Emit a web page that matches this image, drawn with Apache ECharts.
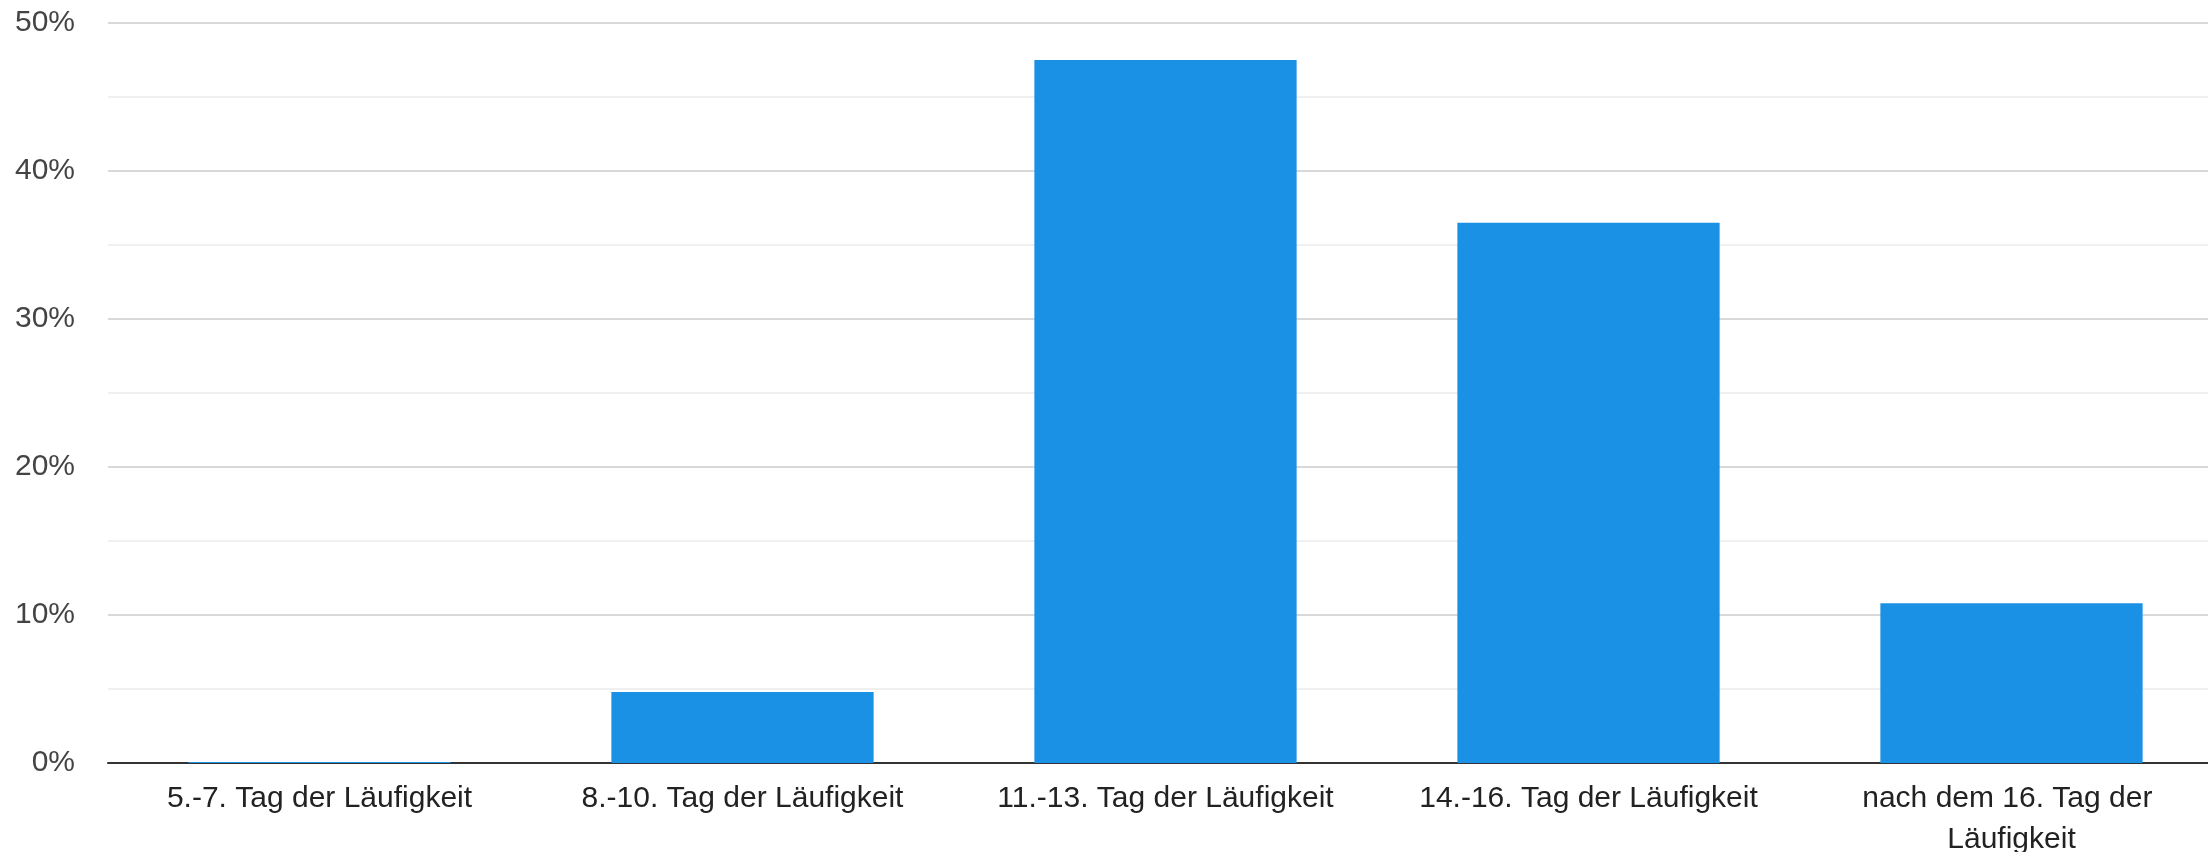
<!DOCTYPE html>
<html lang="de">
  <head>
    <meta charset="UTF-8" />
    <script src="https://cdn.jsdelivr.net/npm/echarts@6.0.0/dist/echarts.min.js"></script>
    <title>Läufigkeit</title>
    <style>
      html, body { margin: 0; padding: 0; background: #fff; }
    </style>
  </head>
  <body>
    <div id="main" style="width: 2208px; height: 852px"></div>
    <script>
      var categories = [
        "5.-7. Tag der Läufigkeit",
        "8.-10. Tag der Läufigkeit",
        "11.-13. Tag der Läufigkeit",
        "14.-16. Tag der Läufigkeit",
        "nach dem 16. Tag der Läufigkeit",
      ];
      var shares = [0, 4.8, 47.5, 36.5, 10.8];

      var chartDom = document.getElementById("main");
      var myChart = echarts.init(chartDom);
      var font = "'Liberation Sans', Arial, sans-serif";

      var option = {
        animation: false,
        grid: {
          left: 108,
          right: -15,
          top: 23,
          bottom: 89,
          containLabel: false,
          outerBoundsMode: "none",
        },
        xAxis: {
          type: "category",
          data: categories,
          axisLine: { lineStyle: { color: "#333", width: 2 } },
          axisTick: { show: false },
          axisLabel: {
            interval: 0,
            margin: 15,
            color: "#222",
            fontFamily: font,
            fontSize: 30,
            lineHeight: 41,
            width: 400,
            overflow: "break",
          },
        },
        yAxis: {
          type: "value",
          min: 0,
          max: 50,
          interval: 10,
          axisLine: { show: false },
          axisTick: { show: false },
          axisLabel: {
            formatter: "{value}%",
            margin: 33,
            color: "#444",
            fontFamily: font,
            fontSize: 30,
          },
          splitLine: { lineStyle: { color: "#cccccc", width: 1.5 } },
          minorTick: { show: false, splitNumber: 2 },
          minorSplitLine: { show: true, lineStyle: { color: "#ebebeb", width: 1.5 } },
        },
        series: [
          {
            type: "bar",
            data: shares,
            barWidth: "62%",
            barMinHeight: 1,
            itemStyle: { color: "#1b91e6" },
          },
        ],
      };

      myChart.setOption(option);
    </script>
  </body>
</html>
